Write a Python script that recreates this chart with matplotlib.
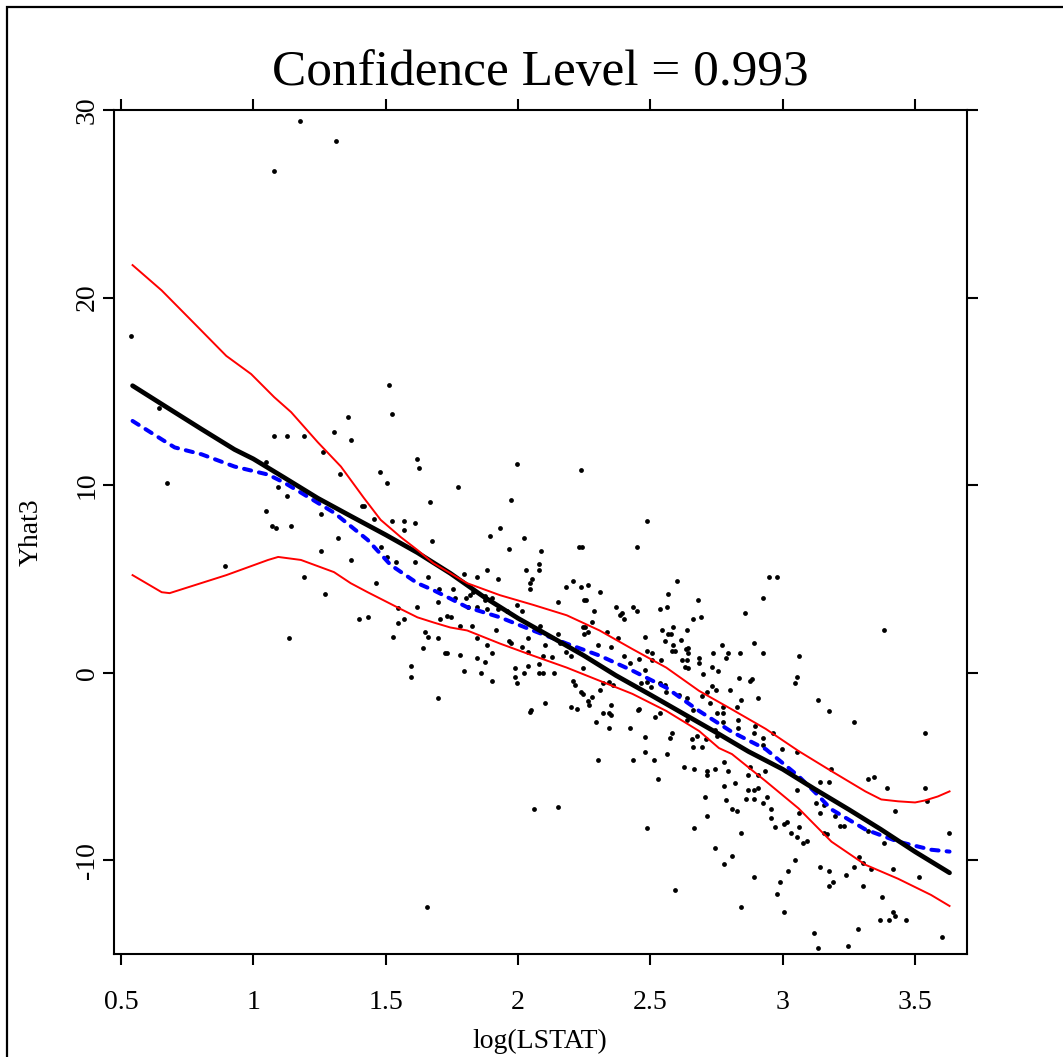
import matplotlib
matplotlib.use("Agg")
import matplotlib.pyplot as plt
from matplotlib.patches import Rectangle

plt.rcParams['font.family'] = ['Liberation Serif', 'DejaVu Serif']

# ---------------- data ----------------
title_text = "Confidence Level = 0.993"
x_label = "log(LSTAT)"
y_label = "Yhat3"
x_ticks = [0.5, 1, 1.5, 2, 2.5, 3, 3.5]
x_tick_labels = ["0.5", "1", "1.5", "2", "2.5", "3", "3.5"]
y_ticks = [-10, 0, 10, 20, 30]
y_tick_labels = ["-10", "0", "10", "20", "30"]

# scatter points: log(LSTAT) and Yhat3
pts_x = [
    1.175, 1.311, 1.078,
    0.537, 0.644, 0.675, 0.893, 1.514, 1.523, 1.359, 1.368, 1.305, 1.078, 1.126, 1.191, 1.047, 1.262,
    1.327, 1.094, 1.126, 1.047, 1.072, 1.086, 1.142, 1.254, 1.254, 1.319, 1.368, 1.191, 1.272, 1.135,
    1.409, 1.418, 1.457, 1.479, 1.506, 1.619, 1.627, 1.667, 1.481, 1.523, 1.569, 1.611, 1.569, 1.676,
    1.504, 1.538, 1.611, 1.659, 1.464, 1.701, 1.699, 1.617, 1.548, 1.400, 1.434, 1.545, 1.569, 1.529,
    1.648, 1.661, 1.699, 1.642, 1.705, 1.730,
    1.772, 1.997, 1.975, 2.238, 1.893, 1.933, 2.021, 1.965, 2.087, 2.078, 2.078, 2.029, 2.054, 2.045,
    2.045, 2.230, 2.240, 2.488, 2.448, 1.884, 1.844, 1.924, 1.796, 2.207, 2.238, 2.263, 2.182, 2.311,
    2.250, 2.257, 2.287, 2.369, 2.433, 2.448, 2.391, 2.384, 2.400, 2.536, 2.561, 2.568, 2.601, 2.278,
    2.245, 2.254, 2.263, 2.250, 2.335, 2.377, 2.351, 2.303, 2.150, 1.755, 1.748, 1.763, 1.804, 1.820,
    1.829, 1.844, 1.877, 1.877, 1.900, 1.884, 1.924, 1.957, 1.997, 2.014, 1.812, 1.781, 1.826, 1.917,
    1.844, 1.884, 1.965, 1.973, 2.014, 2.038, 2.102, 2.150, 2.158, 2.181, 1.781, 1.724, 1.732, 1.844,
    1.900, 2.036, 2.084, 2.488, 2.505, 2.545, 2.554, 2.568, 2.578, 2.587, 2.594, 2.481,
    2.681, 2.690, 2.660, 2.639, 2.859, 2.769, 2.794, 2.737, 2.731, 2.756, 2.698, 2.683, 2.631, 2.639,
    2.642, 2.614, 2.583, 2.801, 2.836, 2.662, 2.694, 2.709, 2.639, 2.662, 2.694, 2.725, 2.773, 2.826,
    2.832, 2.581, 2.575, 2.480, 2.423, 2.344, 2.296, 2.345, 2.350, 2.322, 2.455, 2.501,
    1.877, 1.594, 1.594, 1.699, 1.796, 1.860, 1.900, 1.990, 1.990, 1.997, 2.023, 2.038, 2.078, 2.078,
    2.095, 2.135, 2.095, 2.127, 2.102, 2.050, 2.045, 2.199, 2.223, 2.209, 2.216, 2.247, 2.199, 2.237,
    2.245, 2.263, 2.270, 2.279, 2.311, 2.320, 2.344, 2.360, 2.351, 2.481, 2.514, 2.529, 2.561, 2.433,
    2.304, 2.519, 2.536, 2.457, 2.488, 2.594, 2.061, 2.150, 1.658, 2.423, 2.458, 2.480, 2.508, 2.539,
    2.400, 2.486, 2.536, 2.556, 2.559, 2.465,
    2.948, 2.980, 2.925, 3.382, 3.062, 3.053, 3.045, 2.892, 2.840, 2.925, 2.784, 2.683, 2.618, 2.634,
    2.643, 2.587, 2.643, 2.877, 2.884, 2.731, 2.747, 2.715, 2.841, 2.908, 2.750, 2.774, 2.774, 2.830,
    2.894, 3.133, 3.174, 3.270, 2.609, 2.639,
    2.675, 2.658, 2.628, 2.666, 2.712, 2.714, 2.745, 2.777, 2.793, 2.777, 2.705, 2.714, 2.664, 2.745,
    2.777, 2.810, 2.843, 2.892, 2.785, 2.818, 2.826, 2.841, 2.810, 2.861, 2.868, 2.868, 2.892, 2.892,
    2.908, 2.925, 2.940, 2.908, 2.876, 2.932, 2.955, 2.955, 2.972, 3.006, 3.015, 3.030, 3.053, 3.062,
    3.078, 3.093, 3.045, 3.021, 2.990, 2.980, 3.005, 3.119, 3.133, 3.245, 3.285, 3.142, 3.176, 3.191,
    3.174, 3.238, 3.270, 3.302, 3.334, 3.287, 3.302, 3.376, 3.369, 3.402, 3.417, 3.425, 3.465, 3.417,
    3.382, 3.514, 3.602, 3.628, 3.537, 3.537, 3.546, 3.425, 3.394, 3.343, 3.321, 3.182, 3.174, 3.142,
    3.127, 3.142, 3.157, 3.198, 3.215, 3.231, 3.157, 3.166, 3.053, 3.062, 2.997, 3.053, 2.964, 2.925,
    2.925, 2.893, 2.743, 2.750, 3.321,
]
pts_y = [
    29.42, 28.34, 26.74,
    17.96, 14.09, 10.13, 5.69, 15.34, 13.77, 13.65, 12.40, 12.85, 12.63, 12.63, 12.63, 11.25, 11.75,
    10.58, 9.88, 9.42, 8.64, 7.84, 7.73, 7.84, 8.44, 6.49, 7.16, 6.01, 5.12, 4.21, 1.83,
    8.89, 8.89, 8.19, 10.70, 10.13, 11.37, 10.91, 9.08, 6.72, 8.09, 8.09, 7.96, 7.61, 7.04,
    6.15, 5.88, 5.92, 5.12, 4.80, 4.44, 3.75, 3.52, 3.43, 2.86, 2.95, 2.63, 2.86, 1.92,
    2.15, 1.92, 1.83, 1.30, 2.85, 3.04,
    9.90, 11.14, 9.22, 10.80, 7.29, 7.73, 7.16, 6.59, 6.49, 5.81, 5.46, 5.46, 5.01, 4.80,
    4.44, 6.72, 6.72, 8.09, 6.72, 5.47, 5.12, 5.01, 5.25, 4.90, 4.55, 4.67, 4.55, 4.32,
    3.88, 3.88, 3.29, 3.52, 3.52, 3.29, 3.17, 3.06, 2.85, 3.41, 3.52, 4.21, 4.90, 2.72,
    2.42, 2.42, 2.19, 2.06, 2.19, 1.83, 1.39, 1.48, 3.75, 4.44, 2.95, 3.98, 3.98, 4.14,
    4.32, 3.52, 4.09, 3.88, 3.98, 3.41, 3.41, 3.29, 3.63, 3.29, 3.52, 2.51, 2.51, 2.28,
    1.83, 1.48, 1.71, 1.57, 1.39, 1.83, 1.48, 2.06, 1.57, 1.12, 0.94, 1.03, 1.03, 0.80,
    1.03, 1.12, 2.51, 1.17, 1.07, 2.28, 1.71, 2.06, 2.06, 2.42, 1.17, 1.92,
    3.88, 2.95, 2.85, 2.28, 3.20, 1.48, 1.03, 1.03, 0.32, 0.11, -0.07, 0.50, 0.32, 0.68,
    1.30, 1.74, 1.17, -0.92, -0.30, -3.94, -3.94, -3.55, -2.52, -1.99, -1.24, -1.63, -1.81, -1.81,
    -2.96, -3.23, -3.50, -3.41, -2.96, -2.96, -2.61, -2.16, -1.72, -2.16, -1.99, -0.75,
    0.57, 0.36, -0.21, -1.36, 0.11, 0.00, -0.46, 0.23, -0.21, -0.57, 0.00, 0.36, 0.46, 0.00,
    0.00, 0.00, 0.91, 0.82, -1.60, -1.99, -2.08, -1.81, -1.93, -0.43, -0.66, 0.23, 0.91, -1.03,
    -1.15, -1.49, -1.71, -1.28, -0.92, -0.57, -0.48, -0.66, -2.27, -4.21, -4.65, -5.68, -4.32, -4.65,
    -4.65, -2.38, -2.16, -1.93, -8.29, -11.58, -7.27, -7.18, -12.51, 0.50, 0.71, 0.14, 0.68, 0.68,
    0.89, -0.48, -0.57, -0.64, -1.01, -0.57,
    5.12, 5.12, 3.98, 2.28, 0.91, -0.23, -0.57, 1.58, 1.03, 1.03, 0.80, 0.80, 0.68, 1.25,
    1.03, 1.48, 0.27, -0.44, -0.34, -0.69, -0.91, -1.03, -1.47, -1.36, -2.16, -2.16, -2.61, -2.50,
    -2.84, -1.47, -2.04, -2.61, -1.19, -1.36,
    -3.37, -3.55, -5.01, -5.13, -5.22, -5.45, -5.13, -4.78, -5.22, -6.02, -6.61, -7.62, -8.29, -9.33,
    -10.21, -9.77, -12.51, -10.91, -6.79, -5.90, -7.36, -8.53, -7.28, -6.73, -6.25, -5.45, -6.73, -6.25,
    -6.16, -6.96, -6.61, -5.45, -5.01, -5.22, -7.28, -7.73, -8.21, -8.07, -7.94, -8.53, -8.74, -8.21,
    -9.09, -8.96, -9.98, -10.55, -11.14, -11.80, -12.74, -13.86, -14.69, -14.55, -13.66, -10.34, -10.57, -11.14,
    -11.35, -10.78, -10.34, -11.35, -10.45, -9.81, -10.13, -11.94, -13.18, -13.18, -12.74, -12.97, -13.18, -10.46,
    -9.09, -10.91, -14.10, -8.53, -3.20, -6.15, -6.82, -7.39, -6.15, -5.58, -5.68, -5.12, -5.81, -5.81,
    -6.93, -7.49, -7.05, -7.62, -8.17, -8.17, -8.53, -8.61, -6.25, -7.49, -4.08, -4.21, -3.20, -3.50,
    -3.85, -3.23, -3.05, -3.37, -8.42,
]

# fitted line (black, solid)
fit_x = [0.544, 0.654, 0.805, 0.929, 1.0, 1.117, 1.244, 1.368, 1.5, 1.62, 1.744, 1.87, 2.0, 2.12,
         2.25, 2.37, 2.5, 2.62, 2.75, 2.87, 3.0, 3.12, 3.25, 3.37, 3.5, 3.63]
fit_y = [15.30, 14.32, 12.98, 11.90, 11.40, 10.40, 9.30, 8.35, 7.35, 6.40, 5.30, 4.05, 2.90, 1.95,
         0.90, -0.15, -1.18, -2.15, -3.20, -4.20, -5.15, -6.20, -7.30, -8.35, -9.55, -10.67]

# smooth (blue, dashed)
smooth_x = [0.544, 0.654, 0.703, 0.805, 0.929, 1.056, 1.117, 1.180, 1.305, 1.432, 1.519, 1.620, 1.680,
            1.744, 1.808, 1.932, 2.056, 2.184, 2.308, 2.432, 2.560, 2.684, 2.808, 2.936, 3.060, 3.122,
            3.184, 3.312, 3.436, 3.560, 3.63]
smooth_y = [13.42, 12.44, 12.01, 11.64, 10.99, 10.56, 10.13, 9.60, 8.53, 7.08, 5.74, 4.77, 4.40,
            3.95, 3.49, 2.95, 2.25, 1.55, 0.91, 0.11, -0.80, -2.04, -3.16, -4.08, -5.52, -6.38,
            -7.29, -8.36, -9.01, -9.44, -9.54]

# upper confidence band (red)
upper_x = [0.544, 0.654, 0.778, 0.898, 0.992, 1.079, 1.143, 1.244, 1.331, 1.417, 1.481, 1.556, 1.620,
           1.680, 1.808, 1.932, 2.056, 2.184, 2.308, 2.432, 2.560, 2.684, 2.808, 2.936, 3.060, 3.184,
           3.312, 3.372, 3.436, 3.500, 3.538, 3.586, 3.63]
upper_y = [21.73, 20.38, 18.61, 16.89, 15.92, 14.69, 13.89, 12.28, 10.99, 9.33, 8.15, 7.24, 6.54,
           5.84, 4.77, 4.13, 3.62, 3.06, 2.25, 1.26, 0.27, -0.97, -1.96, -3.00, -4.18, -5.25,
           -6.33, -6.76, -6.86, -6.92, -6.81, -6.60, -6.33]

# lower confidence band (red)
lower_x = [0.544, 0.654, 0.684, 0.898, 1.056, 1.094, 1.180, 1.305, 1.368, 1.432, 1.492, 1.556, 1.620,
           1.680, 1.744, 1.808, 1.932, 2.056, 2.184, 2.308, 2.432, 2.560, 2.684, 2.759, 2.808, 2.936,
           3.060, 3.184, 3.312, 3.436, 3.560, 3.63]
lower_y = [5.20, 4.29, 4.24, 5.20, 6.01, 6.17, 6.01, 5.36, 4.77, 4.29, 3.86, 3.40, 2.95,
           2.68, 2.41, 2.25, 1.55, 0.91, 0.27, -0.43, -1.13, -2.04, -3.11, -4.02, -4.34, -5.79,
           -7.24, -9.01, -10.24, -10.99, -11.85, -12.44]

x_limits = (0.472, 3.696)
y_limits = (-15.0, 30.0)

# ---------------- figure ----------------
W, H = 1063, 1057
fig = plt.figure(figsize=(W / 100, H / 100), dpi=100)
ax = fig.add_axes([113.5 / W, 1 - 954 / H, (967 - 113.5) / W, (954 - 110) / H])

ax.scatter(pts_x, pts_y, s=12, c='black', linewidths=0, zorder=2)
ax.plot(smooth_x, smooth_y, color='#0000ff', lw=2.9, linestyle=(0, (1.8, 2.0)),
        dash_capstyle='round', zorder=3)
ax.plot(fit_x, fit_y, color='black', lw=3.4, solid_capstyle='round', zorder=4)
ax.plot(upper_x, upper_y, color='#ff0000', lw=1.4, zorder=5)
ax.plot(lower_x, lower_y, color='#ff0000', lw=1.4, zorder=5)

ax.set_xlim(*x_limits)
ax.set_ylim(*y_limits)

for sp in ax.spines.values():
    sp.set_linewidth(1.5)

ax.set_xticks(x_ticks)
ax.set_xticklabels(x_tick_labels)
ax.set_yticks(y_ticks)
ax.set_yticklabels(y_tick_labels, rotation=90, va='center')
ax.tick_params(axis='both', which='both', direction='out', length=8, width=1.5,
               top=True, right=True, labeltop=False, labelright=False, labelsize=20)
ax.tick_params(axis='x', pad=18)
ax.tick_params(axis='y', pad=2)

ax.set_xlabel(x_label, fontsize=20, labelpad=10)
ax.set_ylabel(y_label, fontsize=20, labelpad=22)

fig.text(540 / W, 1 - 85 / H, title_text, ha='center', va='baseline', fontsize=37)

# outer frame of the device
fig.patches.append(Rectangle((7 / W, -0.1), 1.2, 1.1 - 7 / H, transform=fig.transFigure,
                             fill=False, edgecolor='black', linewidth=1.6))

fig.savefig("out.png", dpi=100)
